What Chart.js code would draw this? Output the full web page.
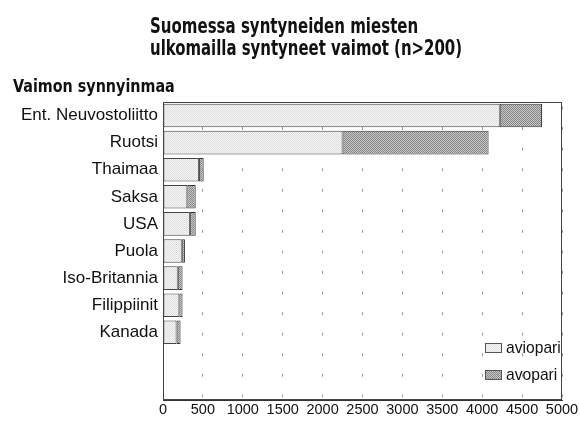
<!DOCTYPE html>
<html>
<head>
<meta charset="utf-8">
<script src="https://cdn.jsdelivr.net/npm/chart.js@4/dist/chart.umd.min.js"></script>
<style>
html,body{margin:0;padding:0;background:#fff;}
#wrap{width:580px;height:426px;position:relative;}
</style>
</head>
<body>
<div id="wrap"><canvas id="c" width="580" height="426"></canvas></div>
<script>
const titleLines = ['Suomessa syntyneiden miesten', 'ulkomailla syntyneet vaimot (n>200)'];
const axisTitle = 'Vaimon synnyinmaa';
const categories = ['Ent. Neuvostoliitto','Ruotsi','Thaimaa','Saksa','USA','Puola','Iso-Britannia','Filippiinit','Kanada','',''];
const aviopari = [4220, 2250, 450, 305, 340, 235, 185, 205, 170, null, null];
const avopari  = [530, 1830, 60, 105, 70, 40, 60, 40, 50, null, null];
const seriesNames = ['aviopari', 'avopari'];
const xMin = 0, xMax = 5000, xStep = 500;

const REG = '"Liberation Sans", Arial, sans-serif';
const BOLDF = '"DejaVu Sans Condensed", "DejaVu Sans", sans-serif';

function makePattern(bg, dot) {
  const p = document.createElement('canvas');
  p.width = 2; p.height = 2;
  const g = p.getContext('2d');
  g.fillStyle = bg; g.fillRect(0,0,2,2);
  g.fillStyle = dot; g.fillRect(0,0,1,1); g.fillRect(1,1,1,1);
  return document.getElementById('c').getContext('2d').createPattern(p, 'repeat');
}
const lightPat = makePattern('#f6f6f6', '#dedede');
const darkPat = makePattern('#c8c8c8', '#858585');

function condensedText(ctx, text, x, y, sx) {
  ctx.save();
  ctx.translate(x, y);
  ctx.scale(sx, 1);
  ctx.fillText(text, 0, 0);
  ctx.restore();
}

const decor = {
  id: 'decor',
  afterDraw(chart) {
    const ctx = chart.ctx, a = chart.chartArea;
    ctx.save();
    ctx.fillStyle = '#111';
    ctx.textAlign = 'left';
    ctx.textBaseline = 'alphabetic';
    ctx.font = 'bold 21px ' + BOLDF;
    condensedText(ctx, titleLines[0], 150, 33, 0.795);
    condensedText(ctx, titleLines[1], 150, 55, 0.79);
    ctx.font = 'bold 18px ' + BOLDF;
    condensedText(ctx, axisTitle, 13, 92, 0.885);
    // legend
    const pats = [lightPat, darkPat];
    const ys = [343, 370];
    ctx.font = '17px ' + REG;
    ctx.textBaseline = 'middle';
    for (let i = 0; i < 2; i++) {
      ctx.fillStyle = pats[i];
      ctx.fillRect(485, ys[i], 17, 10);
      ctx.strokeStyle = '#555';
      ctx.lineWidth = 1;
      ctx.strokeRect(485.5, ys[i] + 0.5, 16, 9);
      ctx.fillStyle = '#111';
      condensedText(ctx, seriesNames[i], 506, ys[i] + 5, 0.92);
    }
    // plot box
    ctx.strokeStyle = '#444';
    ctx.lineWidth = 1;
    ctx.strokeRect(Math.round(a.left) + 0.5, Math.round(a.top) + 0.5,
                   Math.round(a.right - a.left) - 1, Math.round(a.bottom - a.top) - 1);
    ctx.restore();
  }
};

new Chart(document.getElementById('c'), {
  type: 'bar',
  data: {
    labels: categories,
    datasets: [
      { label: seriesNames[0], data: aviopari, backgroundColor: lightPat, borderColor: '#444', borderWidth: 1, borderSkipped: false },
      { label: seriesNames[1], data: avopari, backgroundColor: darkPat, borderColor: '#333', borderWidth: 1, borderSkipped: false }
    ]
  },
  plugins: [decor],
  options: {
    indexAxis: 'y',
    responsive: false,
    animation: false,
    layout: { padding: { top: 102, right: 18, left: 0, bottom: 0 } },
    datasets: { bar: { categoryPercentage: 1, barPercentage: 0.87 } },
    plugins: { legend: { display: false }, title: { display: false }, tooltip: { enabled: false } },
    scales: {
      x: {
        stacked: true,
        min: xMin, max: xMax,
        ticks: { stepSize: xStep, color: '#111', font: { family: REG, size: 14.5 }, padding: 1, maxRotation: 0, autoSkip: false,
                 callback: (v) => String(v) },
        grid: { color: '#9a9a9a', lineWidth: 1, drawTicks: false },
        border: { display: true, color: '#333', width: 1, dash: [3, 17.56], dashOffset: 16.06 },
        afterFit(s) { s.height = 26; }
      },
      y: {
        stacked: true,
        ticks: { color: '#111', font: { family: REG, size: 17 }, padding: 5, autoSkip: false },
        grid: { display: false, drawTicks: false },
        border: { display: true, color: '#333', width: 1 },
        afterFit(s) { s.width = 163; }
      }
    }
  }
});
</script>
</body>
</html>
